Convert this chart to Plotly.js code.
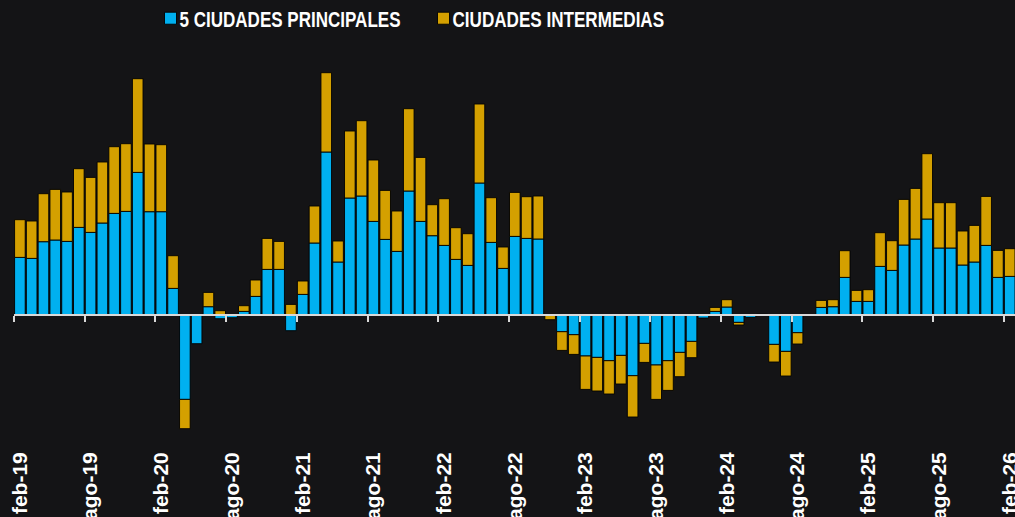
<!DOCTYPE html>
<html>
<head>
<meta charset="utf-8">
<script src="https://cdn.plot.ly/plotly-3.0.1.min.js"></script>
<style>
  html, body { margin: 0; padding: 0; background: #141416; }
  #chart { width: 1015px; height: 517px; }
</style>
</head>
<body>
<div id="chart"></div>
<script>
// Monthly categories feb-19 .. feb-26
const monthNames = ['ene','feb','mar','abr','may','jun','jul','ago','sep','oct','nov','dic'];
const categories = [];
for (let y = 19; y <= 26; y++) {
  for (let m = 0; m < 12; m++) {
    if ((y === 19 && m < 1) || (y === 26 && m > 1)) continue;
    categories.push(monthNames[m] + '-' + y);
  }
}

const tickLabels = ['feb-19','ago-19','feb-20','ago-20','feb-21','ago-21','feb-22','ago-22',
                    'feb-23','ago-23','feb-24','ago-24','feb-25','ago-25','feb-26'];

const seriesNames = ['5 CIUDADES PRINCIPALES', 'CIUDADES INTERMEDIAS'];

const principales = [
  57.3, 56.3, 73, 74.7, 73.3, 87.3, 82.3, 91.7, 101.3, 103.3, 142.3, 103, 103, 26.3,
  -84.7, -29, 8, -4, -3, 3.3, 18.3, 45.3, 45.3, -16, 20.3, 71.7, 162.7, 52.7,
  116.7, 118.7, 93.3, 75.3, 63.3, 123.7, 93.3, 79, 69.3, 55.3, 49.3, 131.7, 72.3, 46.3,
  78.3, 76.3, 75.7, 0, -17, -20, -41.3, -42.7, -46, -40.7, -61, -28.7, -50.3, -46,
  -37.7, -26.7, -3.3, 3.3, 7.7, -7.7, -2.7, 0.3, -29.7, -36.7, -18, -0.7, 7.3, 8,
  37.3, 13.3, 13.3, 48.3, 44.3, 69.7, 75.7, 95.7, 66.7, 66.7, 49.7, 52.7, 69.3, 37.3, 38.3
];

const intermedias = [
  37.7, 37.4, 48, 50.6, 49.4, 58.7, 55, 61, 66.7, 67.7, 93.7, 67.7, 67, 32.7,
  -29.3, 0, 14.3, 4, 0, 5.7, 16.4, 31, 28, 10.3, 13.4, 37, 79.3, 21,
  67, 75.3, 61.4, 49, 40.4, 82.3, 64, 31, 46.7, 31.7, 31.7, 79, 44.7, 21.4,
  44, 41.7, 43, -5, -18.7, -19.7, -33.4, -33.6, -33.3, -28.6, -41.3, -19, -34.4, -29.7,
  -24.3, -16.3, 0, 4, 7.3, -2.6, 0, 0, -17.6, -24.6, -11.3, 0, 7, 7,
  26.7, 11, 11.7, 33.7, 29.7, 45.6, 50.6, 65.3, 45.3, 45.3, 34, 36.6, 49, 27, 27.7
];

const BG = '#141416';
const BLUE = '#00B0F0';
const GOLD = '#D4A000';

const yMin = -132.3, yMax = 254.7;
const zeroPos = (0 - yMin) / (yMax - yMin);
const xRange = [-0.5, categories.length - 0.55];
const boundaries = [];
for (let i = 0; i < tickLabels.length; i++) boundaries.push(i * 6 - 0.5);

const traces = [
  {
    type: 'bar', name: seriesNames[0], x: categories, y: principales,
    marker: { color: BLUE, line: { color: 'rgba(0,0,0,0.9)', width: 1 } },
    hovertemplate: '%{x}: %{y}<extra>' + seriesNames[0] + '</extra>'
  },
  {
    type: 'bar', name: seriesNames[1], x: categories, y: intermedias,
    marker: { color: GOLD, line: { color: 'rgba(0,0,0,0.9)', width: 1 } },
    hovertemplate: '%{x}: %{y}<extra>' + seriesNames[1] + '</extra>'
  },
  {
    // carrier for the category-boundary axis drawn along the zero level
    type: 'scatter', mode: 'lines', x: [], y: [], xaxis: 'x2', yaxis: 'y',
    showlegend: false, hoverinfo: 'skip'
  }
];

const layout = {
  width: 1015, height: 517,
  paper_bgcolor: BG, plot_bgcolor: BG,
  margin: { l: 14, r: 0, t: 60, b: 70, autoexpand: false },
  barmode: 'relative',
  bargap: 0.1,
  showlegend: true,
  legend: {
    orientation: 'h', x: 0.125, xanchor: 'left', y: 1.145, yanchor: 'top',
    font: { family: 'Liberation Sans, Arial, sans-serif', size: 22, color: '#ffffff', weight: 'bold' },
    bgcolor: 'rgba(0,0,0,0)', traceorder: 'normal'
  },
  xaxis: {
    type: 'category', range: xRange,
    tickmode: 'array', tickvals: tickLabels, ticktext: tickLabels,
    tickangle: -90, ticks: '', showline: false, showgrid: false, zeroline: false,
    tickfont: { family: 'Liberation Sans, Arial, sans-serif', size: 21, color: '#ffffff', weight: 'bold' }
  },
  xaxis2: {
    overlaying: 'x', anchor: 'free', position: zeroPos, side: 'bottom',
    type: 'linear', range: xRange,
    showline: true, linecolor: '#d9d9d9', linewidth: 2,
    ticks: 'outside', ticklen: 6, tickwidth: 2, tickcolor: '#d9d9d9',
    tickmode: 'array', tickvals: boundaries, showticklabels: false,
    showgrid: false, zeroline: false
  },
  yaxis: {
    range: [yMin, yMax], showticklabels: false, showgrid: false,
    zeroline: false, showline: false, ticks: ''
  }
};

const gd = document.getElementById('chart');

// Narrow the legend labels (the source uses a condensed bold face) and tighten spacing
function fitLegend() {
  const items = gd.querySelectorAll('g.legend g.traces');
  const symCenters = [170.5, 443.5];
  const textWidths = [221, 211.6];
  const baselineTarget = 26.7;
  const svgRect = gd.querySelector('svg.main-svg').getBoundingClientRect();
  items.forEach((it, i) => {
    if (i > 1) return;
    const txt = it.querySelector('text.legendtext');
    let dy = 0;
    if (txt) {
      txt.setAttribute('x', 29);
      txt.setAttribute('textLength', textWidths[i]);
      txt.setAttribute('lengthAdjust', 'spacingAndGlyphs');
      const tb = txt.getBoundingClientRect();
      const fs = 22;
      const baseline = tb.top - svgRect.top + 0.905 * fs;
      dy = baselineTarget - baseline;
    }
    const sym = it.querySelector('.legendpoints path');
    if (!sym) return;
    const r = sym.getBoundingClientRect();
    const cx = r.left + r.width / 2 - svgRect.left;
    const tr = it.getAttribute('transform') || '';
    const m = tr.match(/translate\(\s*([-\d.e]+)[ ,]+([-\d.e]+)\s*\)/);
    const tx = m ? parseFloat(m[1]) : 0;
    const ty = m ? parseFloat(m[2]) : 0;
    it.setAttribute('transform', 'translate(' + (tx + symCenters[i] - cx) + ',' + (ty + dy) + ')');
  });
}

Plotly.newPlot(gd, traces, layout, { displayModeBar: false }).then(fitLegend);
</script>
</body>
</html>
